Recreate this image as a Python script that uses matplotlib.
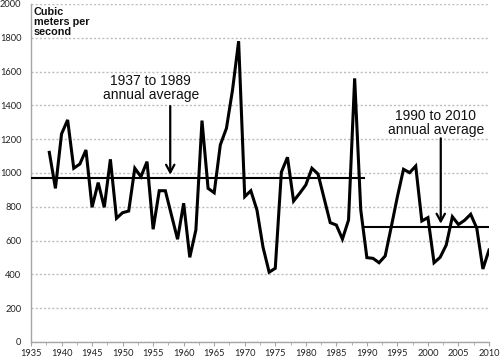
import matplotlib
matplotlib.use("Agg")
import matplotlib.pyplot as plt
from matplotlib.ticker import MultipleLocator

# Annual flow, cubic meters per second
years = list(range(1938, 2011))
flow = [1122, 909, 1231, 1314, 1028, 1053, 1136, 797, 943, 797,
        1081, 732, 765, 775, 1028, 978, 1067, 667, 895, 895,
        751, 608, 821, 501, 663, 1310, 909, 883, 1166, 1264,
        1491, 1780, 860, 895, 781, 560, 413, 436, 1005, 1093,
        834, 880, 929, 1028, 994, 850, 706, 692, 609, 722,
        1560, 781, 499, 495, 469, 509, 682, 860, 1022, 1002,
        1041, 716, 736, 469, 501, 574, 741, 695, 720, 756,
        673, 432, 544]

# Period averages
avg_values = [972, 682]
avg_start = [1935, 1989.5]
avg_end = [1989.5, 2010]
avg_labels = ["1937 to 1989\nannual average", "1990 to 2010\nannual average"]
label_x = [1954.6, 2001.3]
label_y = [1504, 1296]
arrow_x = [1957.8, 2002.1]
arrow_top = [1396, 1205]
arrow_tip = [990, 700]

xticks = list(range(1935, 2011, 5))
yticks = list(range(0, 2001, 200))

fig = plt.figure(figsize=(5.0, 3.59), dpi=100)
ax = fig.add_axes([0.062, 0.0474, 0.916, 0.9415])

ax.set_xlim(1935, 2010)
ax.set_ylim(0, 2000)
ax.set_xticks(xticks)
ax.set_yticks(yticks)
ax.xaxis.set_minor_locator(MultipleLocator(2.5))

ax.grid(axis="y", linestyle=(0, (1.5, 1.5)), color="#bdbdbd", linewidth=1.0)
ax.set_axisbelow(True)

for s in ["top", "right"]:
    ax.spines[s].set_visible(False)
for s in ["left", "bottom"]:
    ax.spines[s].set_color("#a6a6a6")
    ax.spines[s].set_linewidth(1.0)

tick_font = dict(family=["Lato", "DejaVu Sans"], size=6.7)
ax.set_xticklabels([str(t) for t in xticks], fontdict=tick_font, color="#222222")
ax.set_yticklabels([str(t) for t in yticks], fontdict=tick_font, color="#222222")
ax.tick_params(axis="y", length=0, pad=7)
ax.tick_params(axis="x", which="major", length=3, direction="out", color="#a6a6a6", pad=2)
ax.tick_params(axis="x", which="minor", length=2, direction="out", color="#a6a6a6")

ax.plot(years, flow, color="black", linewidth=2.2, solid_joinstyle="miter", zorder=3)

for v, x0, x1 in zip(avg_values, avg_start, avg_end):
    ax.plot([x0, x1], [v, v], color="black", linewidth=1.5, zorder=4)

for lab, lx, ly, axx, at, tip in zip(avg_labels, label_x, label_y, arrow_x, arrow_top, arrow_tip):
    ax.text(lx, ly, lab, ha="center", va="center", fontsize=10,
            family=["Liberation Sans", "DejaVu Sans"], color="#111111", linespacing=1.05)
    ax.annotate("", xy=(axx, tip), xytext=(axx, at),
                arrowprops=dict(arrowstyle="->,head_width=0.3,head_length=0.55",
                                color="black", lw=1.6, shrinkA=0, shrinkB=0))

ax.text(0.0065, 0.99, "Cubic\nmeters per\nsecond", transform=ax.transAxes,
        ha="left", va="top", fontsize=7.8, fontweight="bold",
        family=["Liberation Sans", "DejaVu Sans"], color="#111111", linespacing=1.0)

fig.savefig("out.png", dpi=100)
